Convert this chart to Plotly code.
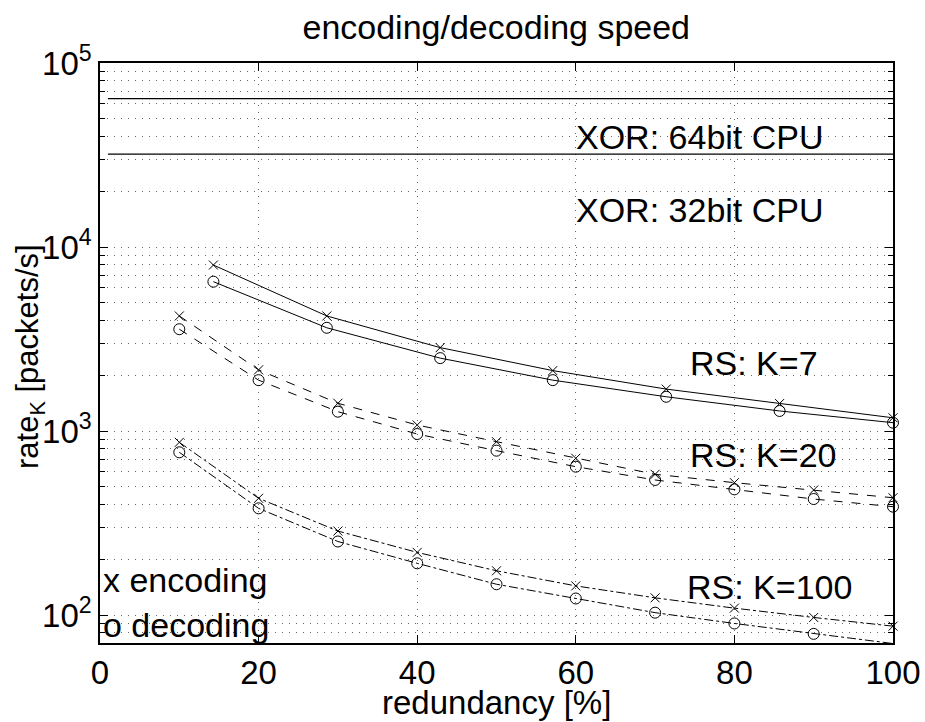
import plotly.graph_objects as go

# ---- data ----
k7_x = [14.3, 28.6, 42.9, 57.1, 71.4, 85.7, 100]
k7_enc = [7980, 4220, 2840, 2130, 1690, 1410, 1180]
k7_dec = [6480, 3640, 2490, 1890, 1535, 1285, 1110]

k_x = [10, 20, 30, 40, 50, 60, 70, 80, 90, 100]
k20_enc = [4220, 2150, 1415, 1078, 875, 711, 582, 524, 478, 434]
k20_dec = [3575, 1890, 1274, 963, 782, 640, 542, 482, 427, 388]
k100_enc = [868, 431, 286, 219, 174, 144, 124, 109, 97, 87]
k100_dec = [766, 380, 251, 191, 147, 123, 103, 90, 79, 70]

xor_x = [1, 100]
xor64 = [64000, 64000]
xor32 = [32000, 32000]

x_ticks = [0, 20, 40, 60, 80, 100]
y_ticks = [100, 1000, 10000, 100000]
y_ticktext = ["10<sup>2</sup>", "10<sup>3</sup>", "10<sup>4</sup>", "10<sup>5</sup>"]

FONT = "Liberation Sans, Arial, Helvetica, sans-serif"
FS = 33
FA = 34

fig = go.Figure()

def add(x, y, dash, sym, size):
    fig.add_trace(go.Scatter(
        x=x, y=y, mode="lines+markers",
        line=dict(color="black", width=1, dash=dash),
        marker=dict(symbol=sym, size=size, color="black",
                    line=dict(color="black", width=1)),
        cliponaxis=False, showlegend=False))

fig.add_trace(go.Scatter(x=xor_x, y=xor64, mode="lines",
                         line=dict(color="black", width=1.2), showlegend=False))
fig.add_trace(go.Scatter(x=xor_x, y=xor32, mode="lines",
                         line=dict(color="black", width=1.2), showlegend=False))

add(k7_x, k7_enc, "solid", "x-thin-open", 9)
add(k7_x, k7_dec, "solid", "circle-open", 11)
add(k_x, k20_enc, "dash", "x-thin-open", 9)
add(k_x, k20_dec, "dash", "circle-open", 11)
add(k_x, k100_enc, "dashdot", "x-thin-open", 9)
add(k_x, k100_dec, "dashdot", "circle-open", 11)

minor_vals = [m * 10 ** e for e in range(1, 5) for m in range(2, 10)]

grid = dict(showgrid=True, gridcolor="#666666", gridwidth=1, griddash="1px,6px")

fig.update_xaxes(
    range=[0, 100], tickmode="array", tickvals=x_ticks,
    ticks="inside", ticklen=8, tickcolor="black", automargin=False,
    showline=True, linecolor="black", linewidth=1.5, mirror="ticks",
    zeroline=False, tickfont=dict(size=FS, color="black", family=FONT),
    **grid)
fig.update_yaxes(
    type="log", range=[1.848, 5.0], tickmode="array", tickvals=y_ticks,
    ticktext=y_ticktext, ticks="inside", ticklen=8, tickcolor="black",
    automargin=False, zeroline=False,
    showline=True, linecolor="black", linewidth=1.5, mirror="ticks",
    tickfont=dict(size=FS, color="black", family=FONT),
    minor=dict(tickmode="array", tickvals=minor_vals, ticks="inside",
               ticklen=5, tickcolor="black", showgrid=True,
               gridcolor="#666666", griddash="1px,6px", gridwidth=1),
    **grid)

ann = [
    ("XOR: 64bit CPU", 59.8, 4.600),
    ("XOR: 32bit CPU", 59.8, 4.201),
    ("RS: K=7", 74.2, 3.37),
    ("RS: K=20", 74.2, 2.870),
    ("RS: K=100", 73.8, 2.154),
    ("x encoding", 0.1, 2.190),
    ("o decoding", 0.1, 1.946),
]
for t, xx, yy in ann:
    fig.add_annotation(text=t, x=xx, y=yy, xref="x", yref="y",
                       xanchor="left", yanchor="middle", showarrow=False,
                       font=dict(size=FA, color="black", family=FONT))

# axis titles
fig.add_annotation(text="rate<sub>K</sub> [packets/s]", textangle=-90,
                   xref="paper", yref="paper", x=(30 - 100) / 793,
                   y=(643 - 357) / 580,
                   xanchor="center", yanchor="middle", showarrow=False,
                   font=dict(size=31, color="black", family=FONT))
fig.add_annotation(text="redundancy [%]",
                   xref="paper", yref="paper", x=0.5, y=-(702 - 643) / 580,
                   xanchor="center", yanchor="middle", showarrow=False,
                   font=dict(size=FS, color="black", family=FONT))

fig.update_layout(
    template="none",
    width=925, height=722,
    margin=dict(l=100, r=32, t=63, b=79),
    paper_bgcolor="white", plot_bgcolor="white",
    font=dict(family=FONT, size=FS, color="black"),
    title=dict(text="encoding/decoding speed", x=0.5365, xanchor="center",
               y=1 - 27 / 722, yanchor="middle", yref="container",
               font=dict(size=FA, color="black", family=FONT)),
    showlegend=False,
)

fig.write_html("out.html", config={"displayModeBar": False},
               post_script="document.body.style.margin='0';document.body.style.overflow='hidden';")
